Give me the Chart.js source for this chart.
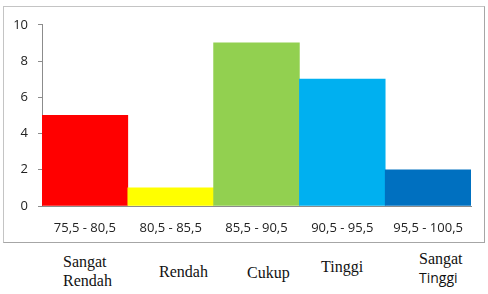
<!DOCTYPE html>
<html>
<head>
<meta charset="utf-8">
<script src="https://cdn.jsdelivr.net/npm/chart.js@4"></script>
<style>
    body { margin: 0; background: #fff; width: 488px; height: 294px; position: relative; overflow: hidden; }
    #box { position: absolute; left: 3px; top: 6px; width: 482px; height: 237px; box-sizing: border-box;
           border: 1px solid #c4c4c4; border-right-color: #a6a6a6; border-bottom-color: #a6a6a6; }
    .lbl { position: absolute; font-family: "Liberation Serif", serif; font-size: 16px; line-height: 19px; color: #111; white-space: nowrap; }
</style>
</head>
<body>
<div id="box"><canvas id="barChart"></canvas></div>

<div class="lbl" style="left:63px; top:252px;">Sangat<br>Rendah</div>
<div class="lbl" style="left:159px; top:262px;">Rendah</div>
<div class="lbl" style="left:247px; top:263px;">Cukup</div>
<div class="lbl" style="left:321px; top:257px;">Tinggi</div>
<div class="lbl" style="left:419px; top:249px;">Sangat<br><span style="font-family:'Open Sans', sans-serif; font-size:14px;">Tinggi</span></div>

<script>
const categories = ['75,5 - 80,5', '80,5 - 85,5', '85,5 - 90,5', '90,5 - 95,5', '95,5 - 100,5'];
const frequency = [5, 1, 9, 7, 2];
const barColors = ['#ff0000', '#ffff00', '#92d050', '#00b0f0', '#0070c0'];

const ctxBar = document.getElementById('barChart').getContext('2d');

window.barInstance = new Chart(ctxBar, {
    type: 'bar',
    data: {
        labels: categories,
        datasets: [{
            data: frequency,
            backgroundColor: barColors,
            borderWidth: 0,
            barPercentage: 1,
            categoryPercentage: 1
        }]
    },
    options: {
        responsive: true,
        maintainAspectRatio: false,
        animation: false,
        layout: {
            padding: { left: 0, right: 13, top: 17, bottom: 0 }
        },
        plugins: {
            legend: { display: false },
            tooltip: { enabled: false }
        },
        scales: {
            x: {
                grid: { display: false, drawTicks: false },
                border: { display: true, color: '#8c8c8c' },
                ticks: {
                    color: '#222',
                    padding: 14,
                    maxRotation: 0,
                    font: { family: 'Open Sans', size: 13 }
                },
                afterFit: (scale) => { scale.height = 36; }
            },
            y: {
                min: 0,
                max: 10,
                ticks: {
                    stepSize: 2,
                    color: '#222',
                    padding: 10,
                    font: { family: 'Open Sans', size: 13 }
                },
                grid: { drawOnChartArea: false, drawTicks: true, tickLength: 4, color: '#8c8c8c' },
                border: { display: true, color: '#8c8c8c' },
                afterFit: (scale) => { scale.width = 38; }
            }
        }
    }
});
</script>
</body>
</html>
